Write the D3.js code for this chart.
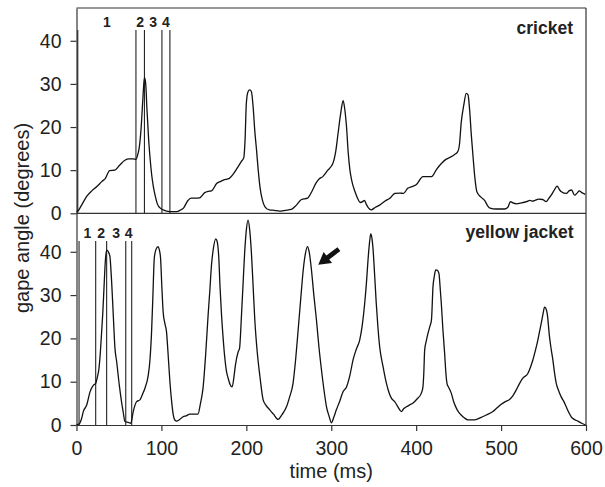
<!DOCTYPE html>
<html><head><meta charset="utf-8">
<script src="https://cdn.jsdelivr.net/npm/d3@7"></script>
<style>body{margin:0;background:#fff}svg{display:block}text{font-family:"Liberation Sans",Arial,sans-serif;fill:#222}</style>
</head><body>
<svg id="c" width="605" height="487"></svg>
<script>
// ---- data ----
const xTicks = [0,100,200,300,400,500,600];
const yTicks = [0,10,20,30,40];
const panelNames = ["cricket","yellow jacket"];
const phaseLabels = ["1","2","3","4"];
const cricketMarks = [1.5,70,80,100.6,110];
const jacketMarks = [3,22.6,35.5,58,65];
const markTop = 42.5;
const arrowFrom = [309,40.6];
const arrowTo = [284.7,37];
const cricketData = [[0,0.4],[2,0.6],[4,1.2],[8,2.6],[12,3.9],[18,5.2],[24,6.2],[30,7.4],[34,8.1],[39,9.9],[45,10.0],[51,11.2],[57,12.3],[62,12.6],[67,12.6],[70,12.5],[72,13.5],[74,15.4],[76,19.5],[78,26],[80,31.5],[81.5,30],[83,24],[85,17],[86.5,13.1],[88.5,9],[90.5,6.2],[93,3.8],[95,2.3],[98,1.3],[102,0.8],[110,0.4],[118,0.4],[122,0.7],[126,1.2],[131,2.9],[135,3.5],[140,3.5],[145,3.6],[151,4.8],[155,5.1],[159,5.2],[165,6.9],[170,7.4],[173,7.7],[180,8.1],[185,9.2],[189,10.4],[194,12],[197,12.9],[198.5,17],[200,25.5],[202,28.2],[204,28.6],[206,28.2],[208,24.7],[210,19],[212,14.7],[214,10],[216,6.2],[219,3],[222,1.5],[227,0.8],[233,0.7],[239,0.5],[246,0.7],[253,0.9],[259,1.9],[265,3.2],[272,3.5],[277,5],[282,7],[286,8],[290,8.5],[296,10],[302,11.6],[305,14],[308,18.5],[311,23],[314,26.1],[316,24],[318,20],[320,14],[322,10],[324,7.7],[328,5],[331,3.5],[334,2.5],[337,2.7],[339,3.0],[341,2.2],[344,1.2],[347,0.8],[352,1.4],[357,1.9],[363,2.8],[369,3.5],[375,4.6],[381,4.7],[385,4.6],[390,5.8],[395,6.2],[400,6.6],[408,8.5],[418,8.5],[424,10.2],[430,11.6],[435,12.5],[440,13],[445,13.6],[449,14.3],[451,16],[453,20.9],[456,25],[459,27.8],[461,27.5],[463,23.9],[465,18],[467,13.1],[469,8.5],[471.5,5],[476,3.8],[481,2.9],[484,1.8],[487,1.2],[494,1.0],[504,1.0],[508,1.4],[511,2.7],[514,2.4],[518,2.2],[524,2.4],[530,2.7],[534,3.0],[537,2.8],[540,3.0],[544,3.3],[549,3.2],[553,2.7],[556,3.4],[559,4.2],[563,5.5],[566,6.3],[569,5.4],[571,5],[577,4.6],[580,5.2],[583,5.4],[586.5,4.2],[590,4.8],[592,5.2],[595,4.8],[597,4.6],[599,4.4]];
const jacketData = [[0,0.1],[3,0.2],[6,1.5],[8,3.1],[12,4.6],[16,7.7],[20,9.2],[22.6,9.6],[24.5,11],[26.5,13.1],[28,16.5],[29.6,21.5],[31,26],[32.7,33],[34,38],[35.5,40.4],[37.5,40],[39.4,38.9],[40.5,36],[41.4,33],[43.3,25.4],[45.3,17.7],[47.3,14.6],[50.4,9.2],[53,5.4],[55,3],[57,0.8],[61,0.6],[64,0.4],[66.8,3.1],[70.8,5.4],[74.7,5.8],[78,7.2],[80.6,8.5],[84.5,11.5],[86.5,15],[88.4,21.5],[90,30],[91.6,38.5],[93.5,40.5],[96.2,41.2],[97.5,40.5],[99,38.5],[100.5,32],[102,26.2],[104,23.5],[106,21.5],[108,16],[110,10],[112,5.5],[114,2.3],[116,1.1],[117.9,0.9],[121,1.2],[125.6,1.9],[129,2.1],[133.5,2.5],[138,2.5],[143,2.5],[146,5],[149,8.5],[152,16],[155,25.4],[157,31],[159,37],[161,40.5],[164,43],[165.5,42.5],[167.6,38.5],[169,32],[170.8,25.4],[172.7,20],[174.7,15.4],[176.5,12.5],[178.6,10.8],[181,9.3],[183.3,8.8],[185,10.5],[187.2,13.9],[190.4,16.9],[192,17.7],[194.3,25.4],[196,32],[198,39.7],[200,45],[202,47.3],[204,45],[206,39.7],[208,32],[210,24.2],[213,16.5],[216,11.2],[219.8,5.8],[223,4.6],[227.6,3.5],[232,2.5],[237.4,1.3],[242,2.4],[247.3,4.2],[251,6.5],[255,9.6],[258,15],[261,21.9],[264,29],[267,35.8],[269.5,39.5],[272,41.2],[274,40],[276.7,35.8],[279.5,30],[282.6,24.2],[285.5,18],[288.5,12.7],[291.5,8],[294.4,4.2],[297.5,2],[300.2,0.5],[303,1.8],[306,3.5],[310,5.5],[313.9,7.7],[318,8.8],[322,11.5],[325.6,15],[329.5,17.5],[333.5,19.6],[336.5,23],[339.4,28.1],[341.5,33],[343.3,38.1],[345,42],[346.5,44.1],[348,43],[349,41.2],[351,35],[353,28.1],[355,22.5],[357,18.1],[361,13.5],[365,9.6],[368,7.5],[370.8,6.2],[374.7,5.4],[378.5,4.2],[382.6,3.1],[385.5,3.8],[388.5,4.2],[392,4.6],[396,5],[401,6],[406,7.3],[408,8.8],[409,12],[410,17.3],[412,19.5],[414,21.2],[416,22.7],[418,24.2],[419.8,31.9],[421.5,34.5],[423,35.8],[425,35.7],[426.8,35],[428.5,31],[429.6,28.1],[431.5,22],[433.5,16.6],[435,12],[436.3,9.6],[438.5,8.6],[441.4,7.3],[444,5.5],[447.3,3.9],[450,3],[453,2.3],[457,1.6],[461,1.2],[469,1.2],[476,1.7],[482.6,2.3],[490.4,3.1],[495,3.9],[500.2,4.8],[505,5.4],[510,5.9],[514,6.8],[517.9,8.1],[521.5,9.5],[525.6,10.8],[531.5,11.9],[534.5,13.3],[537.4,15],[540.5,17.3],[543.3,19.6],[545.5,21.8],[547.3,23.5],[549.5,25.8],[551.2,27.2],[553,26.8],[554.5,25.5],[557,20.4],[559,17.5],[561,15],[563,12],[565,9.6],[568,7.8],[570.8,6.5],[574,5.4],[576.7,4.2],[580,2.8],[582.6,1.9],[586,1.3],[590.4,0.9],[595,0.4],[599.5,0]];

// ---- layout ----
const svg = d3.select("#c");
const x = d3.scaleLinear().domain([0,600]).range([76.5,586]);
const yTop = d3.scaleLinear().domain([0,47.6]).range([213.3,8]);
const yBot = d3.scaleLinear().domain([0,49]).range([425,212.8]);
const frameColor = "#333";

function styleAxis(g){
  g.selectAll("path.domain").attr("stroke",frameColor).attr("stroke-width",1.2);
  g.selectAll(".tick line").attr("stroke",frameColor).attr("stroke-width",1.2);
  g.selectAll(".tick text").attr("font-size",19.5).attr("fill","#222")
    .attr("font-family",'"Liberation Sans",Arial,sans-serif');
}

// y axes
svg.append("g").attr("transform",`translate(${x(0)},0)`)
  .call(d3.axisLeft(yTop).tickValues(yTicks).tickSize(6).tickSizeOuter(0).tickPadding(9)).call(styleAxis);
svg.append("g").attr("transform",`translate(${x(0)},0)`)
  .call(d3.axisLeft(yBot).tickValues(yTicks).tickSize(6).tickSizeOuter(0).tickPadding(9)).call(styleAxis);
// x axis
svg.append("g").attr("transform",`translate(0,${yBot(0)})`)
  .call(d3.axisBottom(x).tickValues(xTicks).tickSize(6).tickSizeOuter(0).tickPadding(10)).call(styleAxis);

// frame: top border, right border, divider
const fr = svg.append("g").attr("stroke",frameColor).attr("stroke-width",1.2).attr("fill","none");
fr.append("line").attr("x1",x(0)).attr("x2",x(600)).attr("y1",yTop(47.6)).attr("y2",yTop(47.6));
fr.append("line").attr("x1",x(600)).attr("x2",x(600)).attr("y1",yTop(47.6)).attr("y2",yBot(0));
fr.append("line").attr("x1",x(0)).attr("x2",x(600)).attr("y1",yTop(0)).attr("y2",yTop(0));

// marker lines and phase labels
function markers(marks, y){
  const g = svg.append("g");
  g.selectAll("line").data(marks).join("line")
    .attr("x1",d=>x(d)).attr("x2",d=>x(d))
    .attr("y1",y(markTop)).attr("y2",y(0))
    .attr("stroke","#222").attr("stroke-width",1.1);
  const mids = d3.range(marks.length-1).map(i=>(marks[i]+marks[i+1])/2);
  g.selectAll("text").data(mids).join("text")
    .attr("x",d=>x(d)).attr("y",y(markTop)-2.5)
    .attr("text-anchor","middle").attr("font-size",14).attr("font-weight","bold")
    .text((d,i)=>phaseLabels[i]);
}
markers(cricketMarks, yTop);
markers(jacketMarks, yBot);

// data lines
const lineTop = d3.line().x(d=>x(d[0])).y(d=>yTop(d[1])).curve(d3.curveMonotoneX);
const lineBot = d3.line().x(d=>x(d[0])).y(d=>yBot(d[1])).curve(d3.curveMonotoneX);
svg.append("path").datum(cricketData).attr("d",lineTop).attr("fill","none").attr("stroke","#111").attr("stroke-width",1.3);
svg.append("path").datum(jacketData).attr("d",lineBot).attr("fill","none").attr("stroke","#111").attr("stroke-width",1.3);

// panel labels
svg.append("text").attr("x",573).attr("y",34).attr("text-anchor","end")
  .attr("font-size",17.5).attr("font-weight","bold").text(panelNames[0]);
svg.append("text").attr("x",573.5).attr("y",237.5).attr("text-anchor","end")
  .attr("font-size",17.5).attr("font-weight","bold").text(panelNames[1]);

// axis titles
svg.append("text").attr("x",(x(0)+x(600))/2).attr("y",478).attr("text-anchor","middle")
  .attr("font-size",20).text("time (ms)");
svg.append("text").attr("transform",`translate(29,218) rotate(-90)`).attr("text-anchor","middle")
  .attr("font-size",20).text("gape angle (degrees)");

// arrow
(function(){
  const tx=x(arrowTo[0]), ty=yBot(arrowTo[1]), fx=x(arrowFrom[0]), fy=yBot(arrowFrom[1]);
  const dx=tx-fx, dy=ty-fy, L=Math.hypot(dx,dy), ux=dx/L, uy=dy/L, px=-uy, py=ux;
  const hl=12, hw=7, sw=2.4;
  const bx=tx-ux*hl, by=ty-uy*hl;
  const pts=[[fx+px*sw,fy+py*sw],[bx+px*sw,by+py*sw],[bx+px*hw,by+py*hw],[tx,ty],
             [bx-px*hw,by-py*hw],[bx-px*sw,by-py*sw],[fx-px*sw,fy-py*sw]];
  svg.append("path").attr("d",d3.line()(pts)+"Z").attr("fill","#111");
})();
</script>
</body></html>
